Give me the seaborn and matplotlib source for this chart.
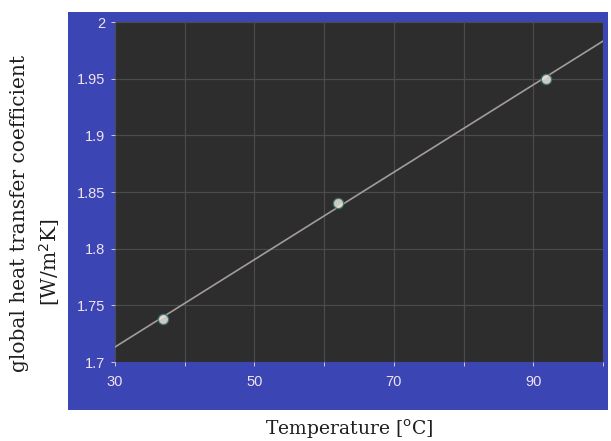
import numpy as np
import pandas as pd
import seaborn as sns
import matplotlib
matplotlib.use("Agg")
import matplotlib.pyplot as plt
from matplotlib.patches import Rectangle

# Data
temperature = [36.9, 62.0, 91.8]
htc = [1.738, 1.840, 1.950]
x_ticks = [30, 40, 50, 60, 70, 80, 90, 100]
x_tick_labels = ["30", "", "50", "", "70", "", "90", ""]
y_ticks = [1.7, 1.75, 1.8, 1.85, 1.9, 1.95, 2.0]
y_tick_labels = ["1.7", "1.75", "1.8", "1.85", "1.9", "1.95", "2"]

df = pd.DataFrame({"T": temperature, "U": htc})

sns.set_theme(style="dark")
W, H = 611, 441
fig = plt.figure(figsize=(W / 100, H / 100), dpi=100)
fig.patch.set_facecolor("white")

# blue panel
fig.add_artist(Rectangle((68 / W, 1 - 410 / H), (608 - 68) / W, (410 - 12) / H,
                         transform=fig.transFigure, facecolor="#3b45b3",
                         edgecolor="none", zorder=0))

ax = fig.add_axes([115 / W, 1 - 362 / H, (603 - 115) / W, (362 - 22) / H])
ax.set_facecolor("#2d2d2d")
ax.set_xlim(30, 100)
ax.set_ylim(1.7, 2.0)

sns.regplot(data=df, x="T", y="U", ax=ax, ci=None, truncate=False,
            scatter_kws=dict(s=55, color="#f6f1e8", edgecolors="#2f6f66",
                             linewidths=1.0, zorder=4),
            line_kws=dict(color="#a39c9a", lw=1.2, zorder=3))

ax.set_xticks(x_ticks)
ax.set_xticklabels(x_tick_labels)
ax.set_yticks(y_ticks)
ax.set_yticklabels(y_tick_labels)
ax.grid(True, color="#4b4b4b", lw=0.9)
ax.set_axisbelow(True)
for s in ax.spines.values():
    s.set_visible(False)
ax.tick_params(axis="both", colors="#d9c3dc", labelcolor="#f0e2ee",
               labelsize=10.5, length=3, width=0.7, direction="out",
               bottom=True, left=True)
ax.tick_params(axis="x", pad=6)
ax.tick_params(axis="y", pad=4)
for lab in ax.get_xticklabels() + ax.get_yticklabels():
    lab.set_family(["Liberation Sans", "DejaVu Sans"])
ax.set_xlabel("")
ax.set_ylabel("")

serif = ["DejaVu Serif"]
fig.text(349 / W, 1 - 429 / H, r"Temperature [$^{\mathrm{o}}$C]",
         ha="center", va="center", fontsize=13.5, family=serif, color="#1e1e1e")
fig.text(20 / W, 1 - 213 / H, "global heat transfer coefficient",
         rotation=90, ha="center", va="center", fontsize=14.5, family=serif,
         color="#1e1e1e")
fig.text(50 / W, 1 - 262 / H, r"[W/m$^{2}$K]",
         rotation=90, ha="center", va="center", fontsize=14.5, family=serif,
         color="#1e1e1e")

fig.savefig("out.png", dpi=100, facecolor="white")
